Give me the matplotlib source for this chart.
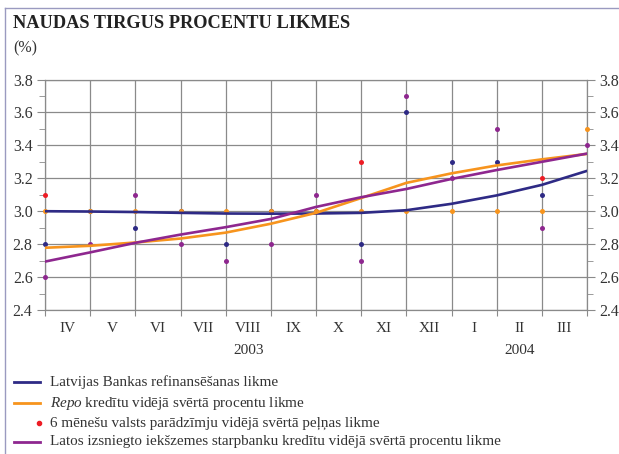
import numpy as np
import matplotlib.pyplot as plt
from matplotlib.lines import Line2D
from matplotlib.transforms import blended_transform_factory

plt.rcParams['font.family'] = ['Liberation Serif', 'DejaVu Serif']
plt.rcParams['mathtext.fontset'] = 'custom'
plt.rcParams['mathtext.rm'] = 'Liberation Serif'
plt.rcParams['mathtext.it'] = 'Liberation Serif:italic'

nan = np.nan

# dati (mēneša robežas: 2003. IV ... 2004. III)
months = ['IV', 'V', 'VI', 'VII', 'VIII', 'IX', 'X', 'XI', 'XII', 'I', 'II', 'III']
years = [(4, '2003'), (10, '2004')]

# punkti
blue_dots = [2.8, 3.0, 2.9, 3.0, 2.8, 3.0, 3.0, 2.8, 3.6, 3.3, 3.3, 3.1, nan]
orange_dots = [3.0, 3.0, 3.0, 3.0, 3.0, 3.0, 3.0, 3.0, 3.0, 3.0, 3.0, 3.0, 3.5]
red_dots = [3.1, nan, nan, nan, nan, nan, nan, 3.3, nan, nan, nan, 3.2, nan]
purple_dots = [2.6, 2.8, 3.1, 2.8, 2.7, 2.8, 3.1, 2.7, 3.7, 3.2, 3.5, 2.9, 3.4]

# izlīdzinātās līknes
blue_line = [3.0, 2.998, 2.995, 2.99, 2.986, 2.985, 2.986, 2.99, 3.006, 3.045, 3.096, 3.16, 3.245]
orange_line = [2.778, 2.79, 2.81, 2.834, 2.87, 2.924, 2.99, 3.08, 3.172, 3.23, 3.278, 3.315, 3.348]
purple_line = [2.694, 2.75, 2.808, 2.858, 2.903, 2.953, 3.026, 3.085, 3.135, 3.196, 3.25, 3.30, 3.35]

labels = ['Latvijas Bankas refinansēšanas likme',
          r'$\mathit{Repo}$ kredītu vidējā svērtā procentu likme',
          '6 mēnešu valsts parādzīmju vidējā svērtā peļņas likme',
          'Latos izsniegto iekšzemes starpbanku kredītu vidējā svērtā procentu likme']

c_blue = '#2e2a85'
c_orange = '#f7941d'
c_red = '#ed1c24'
c_purple = '#8e278f'
c_text = '#333333'
c_grid = '#8a8a8a'

x = np.arange(len(blue_line))

fig = plt.figure(figsize=(6.19, 4.54), dpi=100)
ax = fig.add_axes([45/619, 1-310/454, 542/619, 230.5/454])

for vals, c in [(blue_dots, c_blue), (orange_dots, c_orange),
                (red_dots, c_red), (purple_dots, c_purple)]:
    ax.scatter(x, vals, s=13, color=c, zorder=3, linewidths=0, clip_on=False)

ax.plot(x, blue_line, color=c_blue, lw=1.9, zorder=4)
ax.plot(x, orange_line, color=c_orange, lw=1.9, zorder=4)
ax.plot(x, purple_line, color=c_purple, lw=1.9, zorder=4)

ax.set_xlim(0, 12)
ax.set_ylim(2.4, 3.8)
ax.set_yticks(np.arange(2.4, 3.81, 0.2))
ax.set_yticks(np.arange(2.5, 3.8, 0.2), minor=True)
ax.set_yticklabels(['%.1f' % v for v in np.arange(2.4, 3.81, 0.2)])
ax.set_xticks(x)
ax.set_xticklabels([])
ax.set_xticks(np.arange(12) + 0.5, minor=True)
ax.set_xticklabels(months, minor=True)

ax.grid(True, which='major', color=c_grid, lw=0.9)
for s in ax.spines.values():
    s.set_color(c_grid)
    s.set_linewidth(0.9)

ax.tick_params(axis='y', which='both', direction='out', left=True, right=True,
               labelleft=True, labelright=True, colors=c_grid,
               labelcolor=c_text, labelsize=11.5, pad=3)
ax.tick_params(axis='y', which='major', length=6)
ax.tick_params(axis='y', which='minor', length=4)
ax.tick_params(axis='x', which='major', length=4, direction='out', colors=c_grid)
ax.tick_params(axis='x', which='minor', length=0, labelsize=11, labelcolor=c_text, pad=9)

tr = blended_transform_factory(ax.transData, ax.transAxes)
for i, yr in years:
    ax.annotate(yr, xy=(i + 0.5, 0), xycoords=tr, xytext=(0, -40), textcoords='offset pixels',
                ha='center', va='center', fontsize=11, color=c_text)

# virsraksts
fig.text(13/619, 1-23/454, 'NAUDAS TIRGUS PROCENTU LIKMES', fontsize=13.2,
         fontweight='bold', color='#222222', va='center', ha='left')
fig.text(13/619, 1-48/454, '(%)', fontsize=11.5, color=c_text, va='center', ha='left')

# leģenda
ly = [382, 403, 423, 442]
cols = [c_blue, c_orange, c_red, c_purple]
for k in range(4):
    yy = 1 - ly[k]/454
    if k == 2:
        fig.add_artist(Line2D([39/619], [yy], marker='o', ms=3, color=c_red, lw=0))
    else:
        fig.add_artist(Line2D([14/619, 40/619], [yy, yy], color=cols[k], lw=2))
    fig.text(50/619, yy, labels[k], fontsize=10.9, color=c_text, va='center', ha='left')

# rāmis
frame = '#9a9ac0'
fig.add_artist(Line2D([5/619, 1], [1-8/454, 1-8/454], color=frame, lw=1))
fig.add_artist(Line2D([5/619, 5/619], [0, 1-8/454], color=frame, lw=1))

fig.savefig('out.png', dpi=100)
